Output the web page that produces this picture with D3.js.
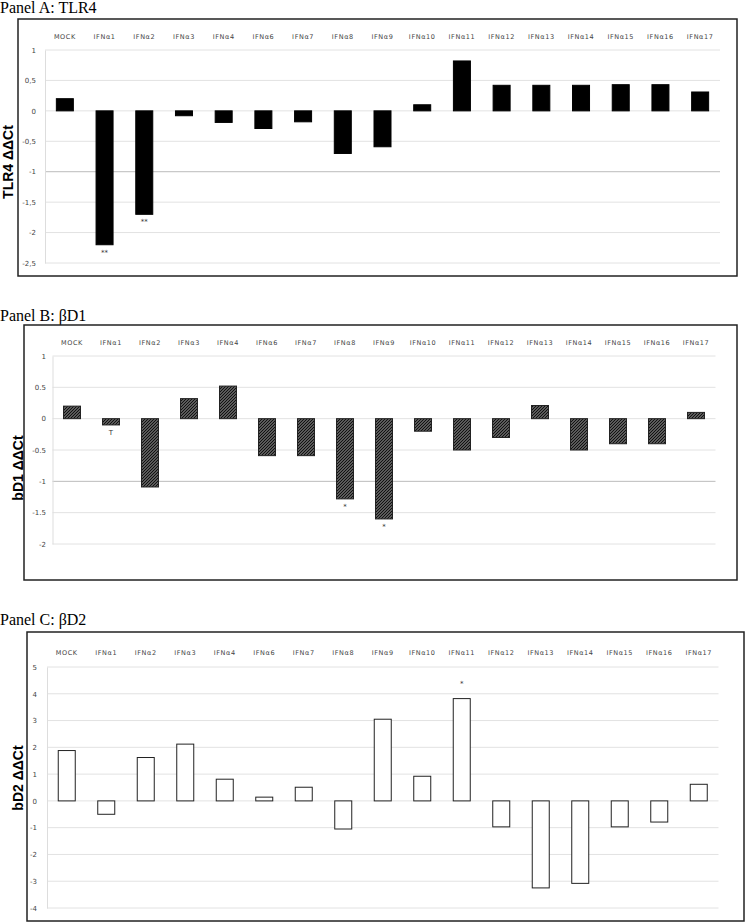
<!DOCTYPE html>
<html>
<head>
<meta charset="utf-8">
<script src="https://cdn.jsdelivr.net/npm/d3@7"></script>
<style>
  body { margin: 0; background: #fff; }
  svg { display: block; }
</style>
</head>
<body>
<svg></svg>
<script>
// canvas size
const w = 747;
const h = 923;

// categories shared by the three panels
const categories = ["MOCK", "IFNα1", "IFNα2", "IFNα3", "IFNα4", "IFNα6", "IFNα7", "IFNα8", "IFNα9",
                    "IFNα10", "IFNα11", "IFNα12", "IFNα13", "IFNα14", "IFNα15", "IFNα16", "IFNα17"];

// panel A: TLR4 ddCt
const tlr4Values = [0.2, -2.2, -1.7, -0.08, -0.19, -0.29, -0.18, -0.7, -0.59, 0.1, 0.82, 0.42, 0.42, 0.42, 0.43, 0.43, 0.31];
const tlr4Ticks = [1, 0.5, 0, -0.5, -1, -1.5, -2, -2.5];
const tlr4Marks = [["IFNα1", "**"], ["IFNα2", "**"]];

// panel B: bD1 ddCt
const bd1Values = [0.2, -0.1, -1.09, 0.32, 0.52, -0.59, -0.59, -1.28, -1.6, -0.2, -0.5, -0.3, 0.21, -0.5, -0.4, -0.4, 0.1];
const bd1Ticks = [1, 0.5, 0, -0.5, -1, -1.5, -2];
const bd1Marks = [["IFNα1", "T"], ["IFNα8", "*"], ["IFNα9", "*"]];

// panel C: bD2 ddCt
const bd2Values = [1.88, -0.5, 1.62, 2.12, 0.81, 0.14, 0.51, -1.05, 3.05, 0.92, 3.82, -0.97, -3.25, -3.08, -0.97, -0.79, 0.62];
const bd2Ticks = [5, 4, 3, 2, 1, 0, -1, -2, -3, -4];
const bd2Marks = [["IFNα11", "*"]];

const svg = d3.select("svg")
              .attr("width", w)
              .attr("height", h);

// hatched fill for panel B
const pat = svg.append("defs")
               .append("pattern")
               .attr("id", "hatch")
               .attr("patternUnits", "userSpaceOnUse")
               .attr("width", 3)
               .attr("height", 3);
pat.append("rect").attr("width", 3).attr("height", 3).attr("fill", "#5a5a5a");
pat.append("path").attr("d", "M0,3 L3,0").attr("stroke", "#111").attr("stroke-width", 1);

function drawPanel(p) {
    const g = svg.append("g");

    // panel title
    g.append("text")
     .attr("x", 0)
     .attr("y", p.titleY)
     .attr("font-family", "Liberation Serif, Times New Roman, serif")
     .attr("font-size", 16)
     .text(p.title);

    // frame
    g.append("rect")
     .attr("x", p.box[0])
     .attr("y", p.box[1])
     .attr("width", p.box[2] - p.box[0])
     .attr("height", p.box[3] - p.box[1])
     .attr("fill", "none")
     .attr("stroke", "#222")
     .attr("stroke-width", 1.5);

    const xScale = d3.scaleBand()
                     .domain(categories)
                     .range(p.xRange);

    const yScale = d3.scaleLinear()
                     .domain(d3.extent(p.ticks))
                     .range(p.yRange);

    // gridlines
    g.selectAll(".grid")
     .data(p.ticks)
     .enter()
     .append("line")
     .attr("x1", p.xRange[0])
     .attr("x2", p.xRange[1])
     .attr("y1", d => yScale(d))
     .attr("y2", d => yScale(d))
     .attr("stroke", d => d === p.darkTick ? "#bbb" : "#e2e2e2")
     .attr("stroke-width", 1);

    // y-axis with tick labels
    const yAxis = d3.axisLeft(yScale)
                    .tickValues(p.ticks)
                    .tickFormat(p.format)
                    .tickSize(0)
                    .tickPadding(p.xRange[0] - p.labelX);
    const ax = g.append("g")
                .attr("transform", "translate(" + p.xRange[0] + ",0)")
                .call(yAxis);
    ax.select(".domain").attr("stroke", "#ddd");
    ax.selectAll("text")
      .attr("font-family", "DejaVu Sans, sans-serif")
      .attr("font-size", 7)
      .attr("fill", "#444");

    // category labels on top
    g.selectAll(".cat")
     .data(categories)
     .enter()
     .append("text")
     .attr("x", d => xScale(d) + xScale.bandwidth() / 2)
     .attr("y", p.catY)
     .attr("text-anchor", "middle")
     .attr("font-family", "DejaVu Sans, sans-serif")
     .attr("font-size", 6.5)
     .attr("letter-spacing", 0.6)
     .attr("fill", "#444")
     .text(d => d);

    // bars
    const bw = 17;
    g.selectAll(".bar")
     .data(p.values)
     .enter()
     .append("rect")
     .attr("x", (d, i) => xScale(categories[i]) + xScale.bandwidth() / 2 - bw / 2)
     .attr("y", d => yScale(Math.max(0, d)))
     .attr("width", bw)
     .attr("height", d => Math.abs(yScale(d) - yScale(0)))
     .attr("fill", p.fill)
     .attr("stroke", p.stroke)
     .attr("stroke-width", 1);

    // significance marks
    g.selectAll(".mark")
     .data(p.marks)
     .enter()
     .append("text")
     .attr("x", d => xScale(d[0]) + xScale.bandwidth() / 2)
     .attr("y", d => {
        const v = p.values[categories.indexOf(d[0])];
        return v < 0 ? yScale(v) + 10 : yScale(v) - 13;
     })
     .attr("text-anchor", "middle")
     .attr("font-family", "DejaVu Sans, sans-serif")
     .attr("font-size", 7)
     .attr("fill", "#333")
     .text(d => d[1]);

    // rotated y label
    g.append("text")
     .attr("transform", "translate(" + p.yLabelPos[0] + "," + p.yLabelPos[1] + ") rotate(-90)")
     .attr("text-anchor", "middle")
     .attr("font-family", "Liberation Sans, Arial, sans-serif")
     .attr("font-weight", "bold")
     .attr("font-size", 14)
     .text(p.yLabel);
}

const commaFormat = d => String(d).replace(".", ",");

drawPanel({
    title: "Panel A: TLR4", titleY: 13,
    box: [18, 19, 737, 276],
    xRange: [45, 720], yRange: [263, 50],
    ticks: tlr4Ticks, values: tlr4Values, marks: tlr4Marks,
    format: commaFormat, labelX: 36, catY: 39, darkTick: -1,
    yLabel: "TLR4 ΔΔCt", yLabelPos: [13, 162],
    fill: "#000", stroke: "#000"
});

drawPanel({
    title: "Panel B: βD1", titleY: 321,
    box: [24, 325, 737, 580],
    xRange: [52.5, 715.5], yRange: [544, 356],
    ticks: bd1Ticks, values: bd1Values, marks: bd1Marks,
    format: d => String(d), labelX: 46, catY: 345, darkTick: -1,
    yLabel: "bD1 ΔΔCt", yLabelPos: [23, 468],
    fill: "url(#hatch)", stroke: "#222"
});

drawPanel({
    title: "Panel C: βD2", titleY: 625,
    box: [27, 632, 744, 921],
    xRange: [47, 718.5], yRange: [908, 667],
    ticks: bd2Ticks, values: bd2Values, marks: bd2Marks,
    format: d => String(d), labelX: 37, catY: 655, darkTick: null,
    yLabel: "bD2 ΔΔCt", yLabelPos: [23, 778],
    fill: "#fff", stroke: "#222"
});
</script>
</body>
</html>
